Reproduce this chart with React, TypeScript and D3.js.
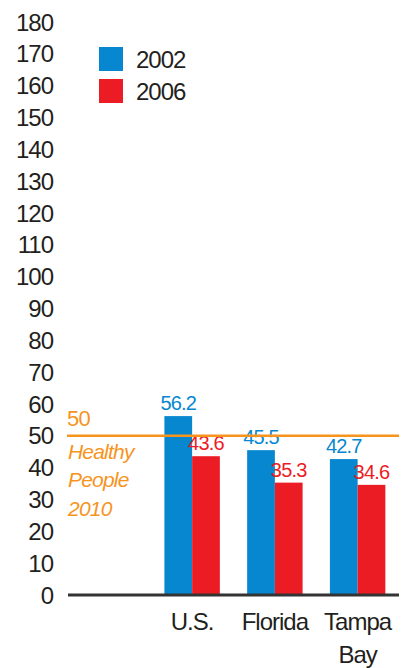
import React from "react";
import * as d3 from "d3";

const categories = ["", "U.S.", "Florida", "Tampa Bay"];
const series = ["2002", "2006"];
const values2002 = [null, 56.2, 45.5, 42.7];
const values2006 = [null, 43.6, 35.3, 34.6];
const yTicks = d3.range(0, 181, 10);
const targetValue = 50;
const targetLabel = ["Healthy", "People", "2010"];

const W = 411;
const H = 668;
const BLUE = "#0787cf";
const RED = "#ec1c24";
const ORANGE = "#f7941d";
const TEXT = "#231f20";
const FONT = "'Liberation Sans', Arial, sans-serif";

export default function App() {
  const y = d3.scaleLinear().domain([0, 180]).range([595, 22]);
  const x = d3
    .scaleBand<string>()
    .domain(categories)
    .range([68, 399])
    .paddingInner(0.33)
    .paddingOuter(0.165);
  const xs = d3.scaleBand<string>().domain(series).range([0, x.bandwidth()]);
  const colors = [BLUE, RED];
  const data = [values2002, values2006];

  return (
    <svg
      width={W}
      height={H}
      style={{ position: "absolute", left: 0, top: 0, background: "#fff" }}
      fontFamily={FONT}
    >
      {yTicks.map((t) => (
        <text
          key={t}
          x={53}
          y={y(t)}
          dy="0.36em"
          textAnchor="end"
          fontSize={24}
          letterSpacing={-1}
          fill={TEXT}
        >
          {t}
        </text>
      ))}

      {data.map((vals, si) =>
        categories.map((c, ci) => {
          const v = vals[ci];
          if (v == null) return null;
          const bx = (x(c) as number) + (xs(series[si]) as number);
          const bw = xs.bandwidth();
          return (
            <g key={`${si}-${ci}`}>
              <rect x={bx} y={y(v)} width={bw} height={y(0) - y(v)} fill={colors[si]} />
              <text
                x={bx + bw / 2}
                y={y(v) - 6}
                textAnchor="middle"
                fontSize={20}
                letterSpacing={-0.8}
                fill={colors[si]}
              >
                {v.toFixed(1)}
              </text>
            </g>
          );
        })
      )}

      <line x1={68} x2={399} y1={y(0)} y2={y(0)} stroke="#333" strokeWidth={3} />
      <line
        x1={67}
        x2={399}
        y1={y(targetValue)}
        y2={y(targetValue)}
        stroke={ORANGE}
        strokeWidth={2.5}
      />
      <text x={67} y={y(targetValue) - 10} fontSize={22} fill={ORANGE} letterSpacing={-0.8}>
        {targetValue}
      </text>
      {targetLabel.map((t, i) => (
        <text
          key={t}
          x={68}
          y={y(targetValue) + 23 + i * 28.5}
          fontSize={21}
          fontStyle="italic"
          fill={ORANGE}
          letterSpacing={-0.8}
        >
          {t}
        </text>
      ))}

      {categories.map((c) => {
        if (!c) return null;
        const cx = (x(c) as number) + x.bandwidth() / 2;
        const words = c === "Tampa Bay" ? ["Tampa", "Bay"] : [c];
        return words.map((w, i) => (
          <text
            key={c + w}
            x={cx}
            y={630 + i * 33}
            textAnchor="middle"
            fontSize={24}
            letterSpacing={-1}
            fill={TEXT}
          >
            {w}
          </text>
        ));
      })}

      {series.map((s, i) => (
        <g key={s}>
          <rect x={99} y={47 + i * 32} width={24} height={24} fill={colors[i]} />
          <text
            x={136}
            y={59 + i * 32}
            dy="0.36em"
            fontSize={24}
            letterSpacing={-1}
            fill={TEXT}
          >
            {s}
          </text>
        </g>
      ))}
    </svg>
  );
}
